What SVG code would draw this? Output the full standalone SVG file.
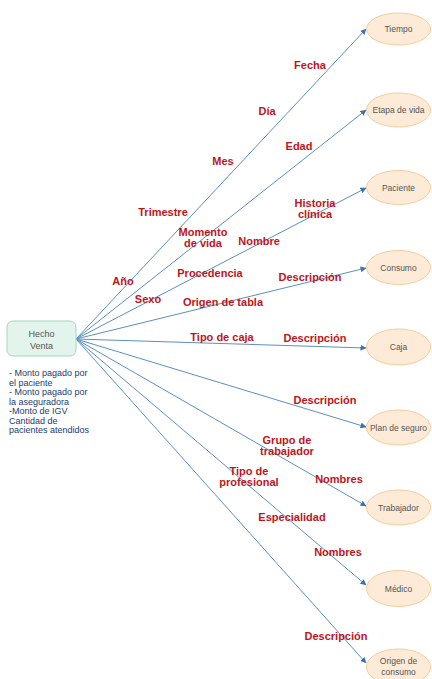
<svg xmlns="http://www.w3.org/2000/svg" width="432" height="679" viewBox="0 0 432 679">
<style>
.bg{fill:#ffffff}
.ell{fill:#fdebd7;stroke:#f6cc9e;stroke-width:1}
.ntx{font-family:"Liberation Sans",Arial,sans-serif;font-size:8.5px;fill:#555555;text-anchor:middle}
.lbl{font-family:"Liberation Sans",Arial,sans-serif;font-size:11px;font-weight:bold;fill:#c0141c;text-anchor:middle}
.con line{stroke:#5b8fc3;stroke-width:1;marker-end:url(#ah)}
.note{font-family:"Liberation Sans",Arial,sans-serif;font-size:9px;fill:#1c3b70}
</style>
<defs>
<marker id="ah" viewBox="0 0 6 6" refX="5.5" refY="3" markerWidth="6" markerHeight="6" orient="auto" markerUnits="userSpaceOnUse">
<path d="M0,0 L6,3 L0,6 z" fill="#3b73ad"/>
</marker>
</defs>
<rect class="bg" x="0" y="0" width="432" height="679"/>
<g id="connectors" class="con">
<line x1="76" y1="339" x2="366" y2="29"/>
<line x1="76" y1="339" x2="366" y2="110"/>
<line x1="76" y1="339" x2="366" y2="188"/>
<line x1="76" y1="339" x2="366" y2="268"/>
<line x1="76" y1="339" x2="366" y2="348"/>
<line x1="76" y1="339" x2="366" y2="427"/>
<line x1="76" y1="339" x2="366" y2="506"/>
<line x1="76" y1="339" x2="366" y2="585"/>
<line x1="76" y1="339" x2="366" y2="663"/>
</g>
<g id="hecho">
<rect x="7" y="321" width="69" height="35" rx="6" ry="6" fill="#e3f4ed" stroke="#a3d6c3" stroke-width="1"/>
<text class="ntx" style="font-size:9px" x="41.5" y="337">Hecho</text>
<text class="ntx" style="font-size:9px" x="41.5" y="349">Venta</text>
</g>
<g id="medidas">
<text class="note" x="9" y="376">- Monto pagado por</text>
<text class="note" x="9" y="385.5">el paciente</text>
<text class="note" x="9" y="395">- Monto pagado por</text>
<text class="note" x="9" y="404.5">la aseguradora</text>
<text class="note" x="9" y="414">-Monto de IGV</text>
<text class="note" x="9" y="423.5">Cantidad de</text>
<text class="note" x="9" y="433">pacientes atendidos</text>
</g>
<g id="tiempo"><ellipse class="ell" cx="398.5" cy="29" rx="32" ry="16"/><text class="ntx" x="398.5" y="32">Tiempo</text></g>
<g id="etapa"><ellipse class="ell" cx="398.5" cy="110" rx="32" ry="17"/><text class="ntx" x="398.5" y="113">Etapa de vida</text></g>
<g id="paciente"><ellipse class="ell" cx="398.5" cy="187.5" rx="32" ry="17"/><text class="ntx" x="398.5" y="190.5">Paciente</text></g>
<g id="consumo"><ellipse class="ell" cx="398.5" cy="267.5" rx="32" ry="17"/><text class="ntx" x="398.5" y="270.5">Consumo</text></g>
<g id="caja"><ellipse class="ell" cx="398.5" cy="347" rx="32" ry="18"/><text class="ntx" x="398.5" y="350">Caja</text></g>
<g id="plan"><ellipse class="ell" cx="398.5" cy="427.5" rx="32" ry="17.5"/><text class="ntx" x="398.5" y="430.5">Plan de seguro</text></g>
<g id="trabajador"><ellipse class="ell" cx="398.5" cy="507.5" rx="32" ry="17.5"/><text class="ntx" x="398.5" y="510.5">Trabajador</text></g>
<g id="medico"><ellipse class="ell" cx="398.5" cy="588.5" rx="32" ry="18"/><text class="ntx" x="398.5" y="591.5">Médico</text></g>
<g id="origen"><ellipse class="ell" cx="398.5" cy="667" rx="32" ry="18"/><text class="ntx" x="398.5" y="664">Origen de</text><text class="ntx" x="398.5" y="675">consumo</text></g>
<g id="labels">
<text class="lbl" x="310" y="69">Fecha</text>
<text class="lbl" x="267" y="115">Día</text>
<text class="lbl" x="223" y="165">Mes</text>
<text class="lbl" x="163" y="216">Trimestre</text>
<text class="lbl" x="299" y="150">Edad</text>
<text class="lbl" x="315" y="207">Historia</text>
<text class="lbl" x="315" y="218">clínica</text>
<text class="lbl" x="203" y="236">Momento</text>
<text class="lbl" x="203" y="247">de vida</text>
<text class="lbl" x="259" y="245">Nombre</text>
<text class="lbl" x="123" y="285">Año</text>
<text class="lbl" x="210" y="277">Procedencia</text>
<text class="lbl" x="310" y="281">Descripción</text>
<text class="lbl" x="148" y="303">Sexo</text>
<text class="lbl" x="223" y="306">Origen de tabla</text>
<text class="lbl" x="222" y="341">Tipo de caja</text>
<text class="lbl" x="315" y="342">Descripción</text>
<text class="lbl" x="325" y="404">Descripción</text>
<text class="lbl" x="287" y="444">Grupo de</text>
<text class="lbl" x="287" y="455">trabajador</text>
<text class="lbl" x="249" y="474.5">Tipo de</text>
<text class="lbl" x="249" y="485.5">profesional</text>
<text class="lbl" x="339" y="483">Nombres</text>
<text class="lbl" x="292" y="521">Especialidad</text>
<text class="lbl" x="338" y="556">Nombres</text>
<text class="lbl" x="336" y="640">Descripción</text>
</g>
</svg>
